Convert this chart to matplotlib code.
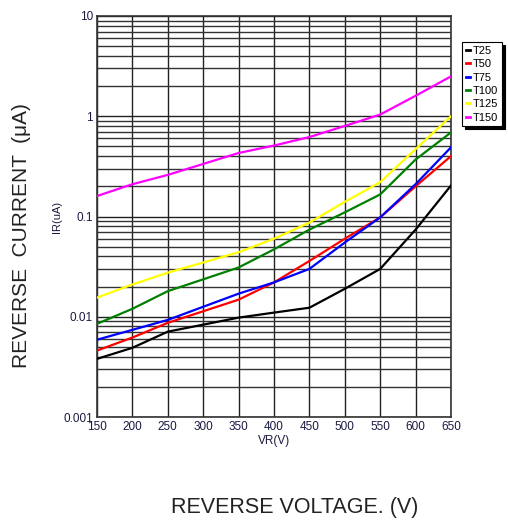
import matplotlib
matplotlib.use("Agg")
import matplotlib.pyplot as plt
from matplotlib.ticker import FixedLocator, LogLocator, NullFormatter

plt.rcParams["font.family"] = ["Liberation Sans", "DejaVu Sans"]

vr = [150, 200, 250, 350, 400, 450, 500, 550, 600, 650]

t25 = [0.0038, 0.0049, 0.0071, 0.0098, 0.011, 0.0123, 0.019, 0.030, 0.074, 0.204]
t50 = [0.0046, 0.0062, 0.0087, 0.0148, 0.022, 0.036, 0.060, 0.098, 0.20, 0.40]
t75 = [0.0059, 0.0074, 0.0093, 0.017, 0.022, 0.030, 0.055, 0.098, 0.21, 0.49]
t100 = [0.0085, 0.012, 0.018, 0.031, 0.047, 0.074, 0.11, 0.166, 0.37, 0.69]
t125 = [0.0155, 0.021, 0.0275, 0.044, 0.060, 0.087, 0.14, 0.22, 0.47, 1.0]
t150 = [0.16, 0.21, 0.26, 0.43, 0.51, 0.62, 0.80, 1.04, 1.6, 2.5]

series = [("T25", t25, "black"), ("T50", t50, "red"), ("T75", t75, "blue"),
          ("T100", t100, "green"), ("T125", t125, "yellow"), ("T150", t150, "magenta")]

xticks = [150, 200, 250, 300, 350, 400, 450, 500, 550, 600, 650]
yticks = [0.001, 0.01, 0.1, 1, 10]
ylabels = ["0.001", "0.01", "0.1", "1", "10"]

fig = plt.figure(figsize=(5.08, 5.20), dpi=100)
ax = fig.add_axes([97 / 508, 1 - 417 / 520, 354 / 508, 401 / 520])

for name, vals, col in series:
    ax.plot(vr, vals, color=col, lw=1.6, label=name, zorder=3)

ax.set_yscale("log")
ax.set_xlim(150, 650)
ax.set_ylim(0.001, 10)
ax.xaxis.set_major_locator(FixedLocator(xticks))
ax.yaxis.set_major_locator(FixedLocator(yticks))
ax.set_yticklabels(ylabels)
ax.yaxis.set_minor_locator(LogLocator(base=10, subs=range(2, 10)))
ax.yaxis.set_minor_formatter(NullFormatter())
ax.grid(True, which="major", color="#222222", lw=1.0)
ax.grid(True, which="minor", axis="y", color="#333333", lw=1.0)
ax.tick_params(which="both", length=0, labelsize=8.5, colors="#1a1a40", pad=3)
for s in ax.spines.values():
    s.set_color("#333333")
    s.set_linewidth(1.2)

ax.set_xlabel("VR(V)", fontsize=8.5, color="#1a1a40", labelpad=1)
ax.set_ylabel("IR(uA)", fontsize=8, color="#1a1a40", labelpad=1)

fig.text(22 / 508, 1 - 236 / 520, "REVERSE  CURRENT  (\u03bcA)", rotation=90,
         ha="center", va="center", fontsize=15, color="#222222")
fig.text(295 / 508, 1 - 508 / 520, "REVERSE VOLTAGE. (V)", ha="center",
         va="center", fontsize=15.5, color="#222222")

leg = fig.legend(loc="upper left", bbox_to_anchor=(462 / 508, 1 - 42 / 520),
                 fontsize=8, handlelength=0.35, handletextpad=0.3,
                 borderpad=0.35, labelspacing=0.3, frameon=True,
                 fancybox=False, shadow={"color": "black", "alpha": 1},
                 borderaxespad=0)
leg.get_frame().set_edgecolor("black")
leg.get_frame().set_linewidth(0.8)
for line in leg.get_lines():
    line.set_linewidth(2)

fig.savefig("out.png", dpi=100)
